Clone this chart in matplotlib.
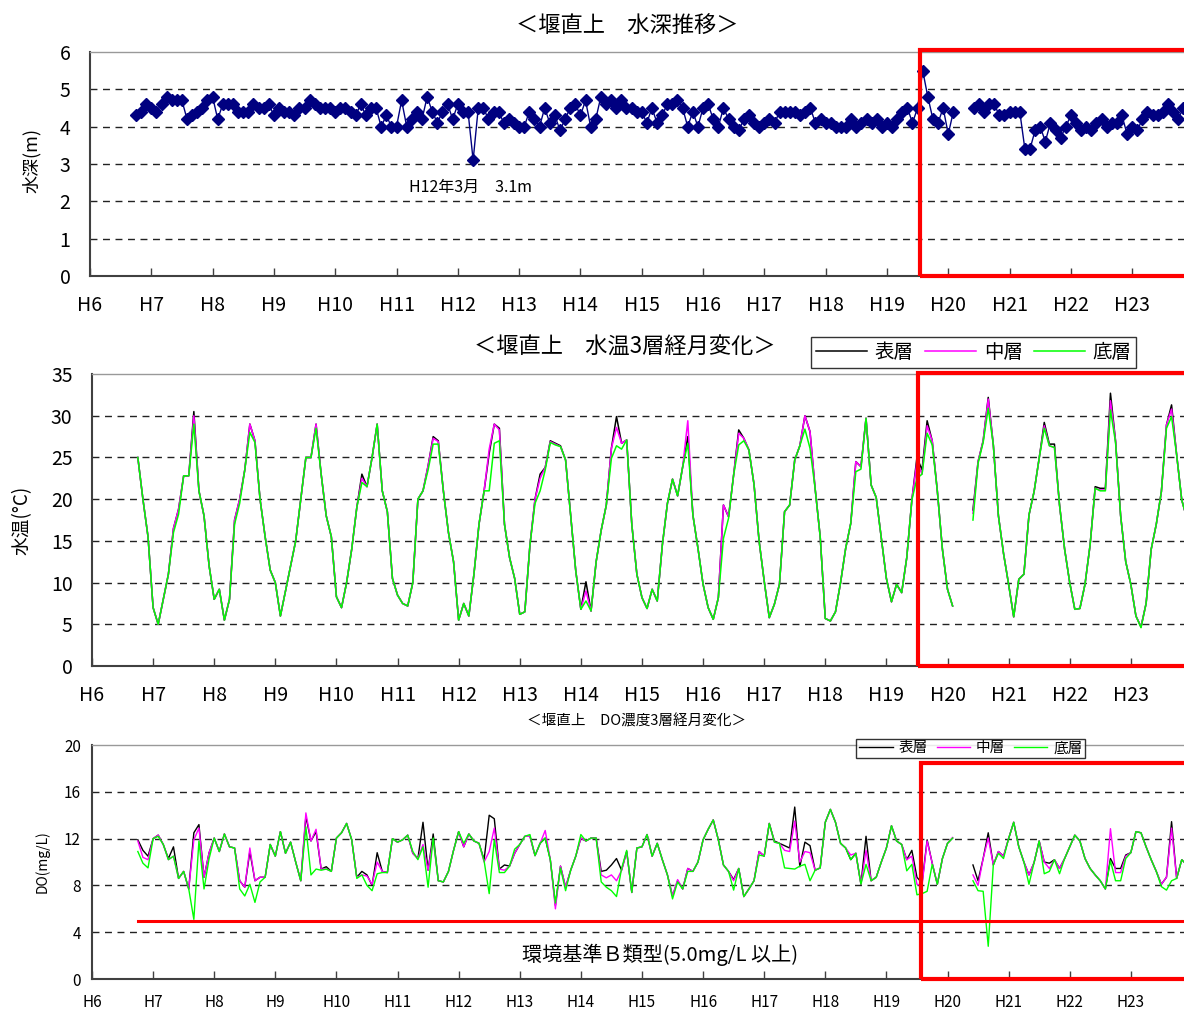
import numpy as np
import matplotlib
matplotlib.use("Agg")
import matplotlib.pyplot as plt
from matplotlib.patches import Rectangle

plt.rcParams['font.family'] = ['Noto Sans CJK JP', 'DejaVu Sans']

nan = np.nan

# 月データ: H6年9月から H23年(末) まで
year_labels = ['H%d' % y for y in range(6, 24)]
layer_names = ['表層', '中層', '底層']

# 水深 (m)
depth = [
    4.3, 4.4, 4.6, 4.5, 4.4, 4.6, 4.8, 4.7, 4.7, 4.7,
    4.2, 4.3, 4.4, 4.5, 4.7, 4.8, 4.2, 4.6, 4.6, 4.6,
    4.4, 4.4, 4.4, 4.6, 4.5, 4.5, 4.6, 4.3, 4.5, 4.4,
    4.4, 4.3, 4.5, 4.5, 4.7, 4.6, 4.5, 4.5, 4.5, 4.4,
    4.5, 4.5, 4.4, 4.3, 4.6, 4.3, 4.5, 4.5, 4.0, 4.3,
    4.0, 4.0, 4.7, 4.0, 4.2, 4.4, 4.2, 4.8, 4.4, 4.1,
    4.4, 4.6, 4.2, 4.6, 4.4, 4.4,
    3.1,
    4.5, 4.5, 4.2, 4.4, 4.4, 4.1, 4.2, 4.1, 4.0, 4.0,
    4.4, 4.2, 4.0, 4.5, 4.1, 4.3, 3.9, 4.2, 4.5, 4.6,
    4.3, 4.7,
    4.0, 4.2, 4.8, 4.6, 4.7, 4.5, 4.7, 4.5, 4.5, 4.4,
    4.4, 4.1, 4.5, 4.1, 4.3, 4.6, 4.6, 4.7, 4.5, 4.0,
    4.4, 4.0, 4.5, 4.6, 4.2, 4.0, 4.5, 4.2, 4.0, 3.9,
    4.2, 4.3, 4.1, 4.0, 4.1, 4.2, 4.1, 4.4, 4.4, 4.4,
    4.4, 4.3, 4.4, 4.5, 4.1, 4.2, 4.1, 4.1, 4.0, 4.0,
    4.0, 4.2, 4.0, 4.1, 4.2, 4.1, 4.2, 4.0, 4.1, 4.0,
    4.2, 4.4, 4.5, 4.1, 4.5,
    5.5,
    4.8, 4.2, 4.1, 4.5, 3.8, 4.4,
    nan, nan, nan,
    4.5, 4.6, 4.4, 4.6, 4.6, 4.3, 4.3, 4.4, 4.4, 4.4,
    3.4, 3.4, 3.9, 4.0, 3.6, 4.1, 3.9, 3.7, 4.0, 4.3,
    4.1, 3.9, 4.0, 3.9, 4.1, 4.2, 4.0, 4.1, 4.1, 4.3,
    3.8, 4.0, 3.9, 4.2, 4.4, 4.3, 4.3, 4.4, 4.6, 4.4,
    4.2, 4.5,
    nan,
]

# 水温 (℃)
temp_surf = [
    25.0, 20.0, 15.5, 7.0, 5.0, 8.0, 11.0, 16.5, 18.8, 22.8, 22.8, 30.5,
    21.0, 18.0, 12.0, 8.0, 9.2, 5.5, 8.0, 17.5, 20.0, 23.5, 29.0, 27.0,
    20.0, 15.5, 11.5, 10.0, 6.0, 9.0, 12.0, 15.0, 20.0, 25.0, 25.0, 29.0,
    23.0, 18.0, 15.5, 8.3, 7.0, 10.0, 14.0, 19.0, 23.0, 21.5, 25.0, 29.0,
    21.0, 18.5, 10.5, 8.5, 7.5, 7.2, 10.0, 20.0, 21.0, 24.0, 27.5, 27.0,
    21.0, 16.0, 12.5, 5.5, 7.5, 6.0, 11.0, 17.0, 21.0, 25.5, 29.0, 28.5,
    17.0, 13.0, 10.5, 6.2, 6.5, 14.5, 20.0, 23.0, 23.8, 27.0, 26.7, 26.4,
    24.7, 18.1, 11.4, 6.8, 10.1, 6.6, 12.5, 16.3, 19.3, 26.1, 29.9, 26.7,
    27.1, 17.0, 11.0, 8.2, 6.9, 9.2, 7.8, 14.5, 19.5, 22.4, 20.4, 23.9,
    27.5, 18.1, 14.1, 9.8, 7.0, 5.6, 8.2, 19.3, 17.9, 22.9, 28.3, 27.3,
    25.9, 21.8, 15.0, 10.2, 5.8, 7.4, 9.8, 18.5, 19.3, 24.7, 26.4, 30.0,
    28.1, 21.3, 15.5, 5.7, 5.4, 6.5, 10.0, 14.1, 17.1, 24.5, 23.9, 29.7,
    21.7, 20.2, 15.3, 10.5, 7.7, 9.8, 8.8, 13.0, 19.9, 25.0, 23.5, 29.4,
    27.0, 21.0, 14.0, 9.2, 7.2, nan, nan, nan, 18.7, 24.5, 27.0, 32.2,
    26.5, 18.0, 13.5, 9.8, 5.9, 10.4, 11.0, 18.1, 20.9, 24.9, 29.2, 26.6,
    26.6, 19.3, 14.0, 10.0, 6.8, 6.9, 9.8, 14.5, 21.5, 21.3, 21.3, 32.7,
    27.0, 18.0, 12.5, 9.8, 6.0, 4.7, 7.5, 14.0, 17.0, 20.9, 28.9, 31.3,
    25.3, 19.9, 17.7,
]
temp_mid = [
    25.0, 20.0, 15.5, 7.0, 5.0, 8.0, 11.0, 16.5, 18.8, 22.8, 22.8, 30.0,
    21.0, 18.0, 12.0, 8.0, 9.2, 5.5, 8.0, 17.5, 20.0, 23.5, 29.0, 27.0,
    20.0, 15.5, 11.5, 10.0, 6.0, 9.0, 12.0, 15.0, 20.0, 25.0, 25.0, 29.0,
    23.0, 18.0, 15.5, 8.3, 7.0, 10.0, 14.0, 19.0, 22.5, 21.5, 25.0, 29.0,
    21.0, 18.5, 10.5, 8.5, 7.5, 7.2, 10.0, 20.0, 21.0, 24.0, 27.3, 26.9,
    21.0, 16.0, 12.5, 5.5, 7.5, 6.0, 11.0, 17.0, 21.0, 26.0, 29.0, 28.3,
    17.0, 13.0, 10.5, 6.2, 6.5, 14.5, 20.0, 22.5, 23.8, 26.9, 26.6, 26.3,
    24.7, 18.1, 11.4, 6.8, 9.0, 6.6, 12.5, 16.3, 19.3, 26.1, 28.6, 26.7,
    27.1, 17.0, 11.0, 8.2, 6.9, 9.2, 7.8, 14.5, 19.5, 22.4, 20.4, 23.9,
    29.4, 18.1, 14.1, 9.8, 7.0, 5.6, 8.2, 19.3, 17.9, 22.9, 27.9, 27.3,
    25.9, 21.8, 15.0, 10.2, 5.8, 7.4, 9.8, 18.5, 19.3, 24.7, 26.4, 30.0,
    28.1, 21.3, 15.5, 5.7, 5.4, 6.5, 10.0, 14.1, 17.1, 24.5, 23.9, 29.7,
    21.7, 20.2, 15.3, 10.5, 7.7, 9.8, 8.8, 13.0, 19.9, 24.5, 23.0, 28.8,
    27.0, 21.0, 14.0, 9.2, 7.2, nan, nan, nan, 18.3, 24.5, 27.0, 32.0,
    26.5, 18.0, 13.5, 9.8, 5.9, 10.4, 11.0, 18.1, 20.9, 24.9, 28.8, 26.4,
    26.2, 19.3, 14.0, 10.0, 6.8, 6.9, 9.8, 14.5, 21.3, 21.1, 21.1, 31.8,
    27.0, 18.0, 12.5, 9.8, 6.0, 4.7, 7.5, 14.0, 17.0, 20.9, 28.9, 30.8,
    25.3, 19.9, 17.7,
]
temp_bot = [
    25.0, 20.0, 15.5, 7.0, 5.0, 8.0, 11.0, 16.0, 18.2, 22.8, 22.8, 29.0,
    21.0, 18.0, 12.0, 8.0, 9.2, 5.5, 8.0, 17.0, 19.5, 23.5, 28.0, 26.8,
    20.0, 15.5, 11.5, 10.0, 6.0, 9.0, 12.0, 15.0, 20.0, 25.0, 25.0, 28.5,
    23.0, 18.0, 15.5, 8.3, 7.0, 10.0, 14.0, 19.0, 22.0, 21.5, 25.0, 29.0,
    21.0, 18.5, 10.5, 8.5, 7.5, 7.2, 10.0, 20.0, 21.0, 23.5, 26.6, 26.6,
    21.0, 16.0, 12.5, 5.5, 7.5, 6.0, 11.0, 17.0, 21.0, 21.0, 26.7, 27.0,
    17.0, 13.0, 10.5, 6.2, 6.5, 14.5, 19.5, 21.0, 23.5, 26.8, 26.5, 26.3,
    24.7, 18.1, 11.4, 6.8, 7.8, 6.6, 12.5, 16.3, 19.3, 24.9, 26.4, 26.0,
    27.1, 17.0, 11.0, 8.2, 6.9, 9.2, 7.8, 14.5, 19.5, 22.4, 20.4, 23.9,
    26.7, 18.1, 14.1, 9.8, 7.0, 5.6, 8.2, 15.3, 17.7, 22.9, 26.5, 27.0,
    25.9, 21.8, 15.0, 10.2, 5.8, 7.4, 9.8, 18.5, 19.3, 24.7, 26.4, 28.4,
    26.1, 21.3, 15.5, 5.7, 5.4, 6.5, 10.0, 14.1, 17.1, 23.3, 23.6, 29.7,
    21.7, 20.2, 15.3, 10.5, 7.7, 9.8, 8.8, 13.0, 19.9, 22.5, 23.0, 27.9,
    26.5, 21.0, 14.0, 9.2, 7.2, nan, nan, nan, 17.5, 24.3, 26.8, 30.9,
    26.5, 18.0, 13.5, 9.8, 5.9, 10.4, 11.0, 18.1, 20.9, 24.9, 28.5, 26.4,
    26.2, 19.3, 14.0, 10.0, 6.8, 6.9, 9.8, 14.5, 21.3, 21.0, 21.0, 30.7,
    26.8, 18.0, 12.5, 9.8, 6.0, 4.6, 7.5, 14.0, 17.0, 20.9, 28.5, 29.9,
    25.3, 19.9, 17.7,
]

# DO (mg/L)
do_surf = [
    11.9, 11.0, 10.5, 12.0, 12.3, 11.5, 10.3, 11.3, 8.6, 9.2, 7.7, 12.5,
    13.2, 8.7, 10.8, 12.05, 10.9, 12.4, 11.3, 11.2, 8.4, 7.85, 10.9, 8.4,
    8.7, 8.7, 11.5, 10.5, 12.6, 10.75, 11.7, 10.0, 8.4, 13.9, 11.8, 12.6,
    9.4, 9.6, 9.2, 12.05, 12.5, 13.3, 11.9, 8.7, 9.2, 8.9, 8.0, 10.8,
    9.2, 9.1, 12.0, 11.7, 11.9, 12.3, 10.75, 10.3, 13.4, 9.3, 12.4, 8.4,
    8.3, 9.2, 11.0, 12.6, 11.3, 12.4, 11.8, 11.6, 10.2, 14.0, 13.7, 9.4,
    9.75, 9.65, 10.75, 11.5, 12.2, 12.2, 10.55, 11.6, 12.05, 10.2, 6.3, 9.65,
    7.85, 9.3, 10.5, 12.05, 11.8, 12.05, 12.05, 9.2, 9.3, 9.75, 10.3, 9.3,
    10.9, 7.4, 11.2, 11.3, 12.35, 10.5, 11.6, 10.2, 8.9, 7.1, 8.4, 7.7,
    9.45, 9.2, 10.0, 11.9, 12.8, 13.6, 11.9, 9.75, 9.2, 8.5, 9.45, 7.05,
    7.7, 8.4, 10.9, 10.5, 13.3, 11.8, 11.6, 11.4, 11.2, 14.7, 9.6, 11.7,
    11.4, 9.3, 9.5, 13.4, 14.5, 13.4, 11.6, 11.2, 10.2, 10.75, 8.1, 12.2,
    8.4, 8.7, 10.0, 11.2, 13.1, 11.8, 11.5, 10.2, 11.0, 8.7, 8.2, 11.9,
    9.9, 8.1, 10.3, 11.6, 12.05, nan, nan, nan, 9.75, 8.4, 10.3, 12.5,
    9.75, 10.9, 10.5, 12.0, 13.4, 11.3, 10.0, 8.9, 9.95, 11.8, 10.0, 9.9,
    10.2, 9.45, 10.3, 11.3, 12.3, 11.8, 10.3, 9.45, 8.9, 8.4, 7.7, 10.3,
    9.45, 9.45, 10.6, 10.8, 12.6, 12.5, 11.3, 10.2, 9.2, 8.1, 8.7, 13.45,
    8.6, 10.2, 9.75,
]
do_mid = [
    11.8, 10.4, 10.2, 12.0, 12.3, 11.5, 10.2, 10.5, 8.6, 9.2, 7.7, 11.9,
    12.9, 8.7, 10.8, 12.05, 10.9, 12.4, 11.3, 11.2, 8.4, 7.85, 11.2, 8.4,
    8.7, 8.7, 11.5, 10.5, 12.6, 10.75, 11.7, 10.0, 8.4, 14.2, 11.8, 12.8,
    9.4, 9.4, 9.2, 12.05, 12.5, 13.3, 11.9, 8.7, 8.9, 8.8, 8.1, 10.0,
    9.2, 9.1, 12.0, 11.7, 11.9, 12.3, 10.75, 10.3, 11.5, 9.3, 11.9, 8.4,
    8.3, 9.2, 11.0, 12.6, 11.3, 12.4, 11.8, 11.6, 10.0, 10.9, 12.9, 9.4,
    9.3, 9.65, 10.75, 11.5, 12.2, 12.2, 10.55, 11.6, 12.7, 10.2, 6.0, 9.65,
    7.85, 9.3, 10.5, 12.05, 11.8, 12.05, 12.05, 8.9, 8.65, 8.9, 8.4, 9.3,
    10.9, 7.4, 11.2, 11.3, 12.35, 10.5, 11.6, 10.2, 8.9, 7.1, 8.5, 7.7,
    9.45, 9.2, 10.0, 11.9, 12.8, 13.6, 11.9, 9.75, 9.2, 8.4, 9.45, 7.05,
    7.7, 8.4, 10.9, 10.5, 13.3, 11.7, 11.6, 11.0, 10.9, 13.5, 10.0, 10.9,
    10.8, 9.3, 9.5, 13.4, 14.5, 13.4, 11.6, 11.2, 10.6, 10.75, 8.1, 11.0,
    8.4, 8.7, 10.0, 11.2, 13.1, 11.8, 11.5, 10.2, 10.5, 8.1, 8.0, 11.8,
    9.9, 8.1, 10.3, 11.6, 12.1, nan, nan, nan, 8.9, 8.0, 10.3, 12.05,
    9.75, 10.9, 10.5, 12.0, 13.4, 11.3, 10.0, 8.9, 9.95, 11.8, 10.0, 9.45,
    10.2, 9.45, 10.3, 11.3, 12.3, 11.8, 10.3, 9.45, 8.9, 8.4, 7.7, 12.85,
    9.1, 9.1, 10.5, 10.8, 12.6, 12.5, 11.3, 10.2, 9.2, 8.1, 8.7, 12.9,
    8.6, 10.2, 9.75,
]
do_bot = [
    10.9, 9.9, 9.5, 12.0, 12.2, 11.5, 10.2, 10.5, 8.6, 9.2, 7.7, 5.1,
    11.8, 7.7, 10.3, 12.05, 10.9, 12.4, 11.3, 11.2, 7.7, 7.1, 8.1, 6.55,
    8.3, 8.7, 11.5, 10.5, 12.6, 10.75, 11.7, 10.0, 8.4, 13.0, 8.9, 9.4,
    9.3, 9.4, 9.2, 12.05, 12.5, 13.3, 11.9, 8.6, 8.9, 8.0, 7.55, 9.0,
    9.1, 9.1, 12.0, 11.7, 11.9, 12.3, 10.9, 10.2, 11.3, 7.85, 12.05, 8.4,
    8.3, 9.2, 11.0, 12.6, 11.6, 12.4, 11.8, 11.6, 10.1, 7.3, 11.9, 9.1,
    9.1, 9.65, 11.1, 11.5, 12.2, 12.35, 10.55, 11.6, 12.05, 10.2, 6.5, 9.5,
    7.55, 9.3, 10.5, 12.35, 11.8, 12.05, 12.05, 8.3, 7.85, 7.55, 7.05, 9.45,
    11.0, 7.4, 11.2, 11.3, 12.35, 10.5, 11.6, 10.2, 8.9, 6.85, 8.3, 7.7,
    9.2, 9.2, 10.0, 11.9, 12.8, 13.6, 11.9, 9.75, 9.2, 7.6, 9.45, 7.05,
    7.7, 8.4, 10.6, 10.5, 13.3, 11.7, 11.6, 9.5, 9.45, 9.4, 9.65, 9.8,
    8.4, 9.3, 9.5, 13.4, 14.5, 13.4, 11.6, 11.2, 10.2, 10.75, 8.1, 9.8,
    8.4, 8.7, 10.0, 11.2, 13.1, 11.8, 11.5, 9.25, 9.8, 7.2, 7.3, 7.5,
    9.8, 8.1, 10.3, 11.6, 12.05, nan, nan, nan, 8.4, 7.55, 7.5, 2.8,
    9.75, 10.75, 10.3, 12.0, 13.4, 11.3, 10.0, 8.1, 9.95, 11.8, 9.0, 9.2,
    10.2, 9.0, 10.3, 11.3, 12.3, 11.8, 10.3, 9.45, 8.9, 8.4, 7.7, 10.1,
    8.4, 8.4, 10.3, 10.8, 12.6, 12.5, 11.3, 10.2, 9.2, 7.9, 7.6, 8.4,
    8.6, 10.2, 9.75,
]

do_standard = 5.0

# x 位置: H6年9月 = 6.75, 以降1か月ずつ
x = 6.75 + np.arange(len(depth)) / 12.0

layer_colors = ['black', '#ff00ff', '#00ff00']
spine_col = '#404040'
dash = (0, (5, 4))


def style_axes(ax, yticks, xlab_size, ylab_size, xpad, ypad):
    ax.set_xlim(6, 24)
    ax.set_ylim(yticks[0], yticks[-1])
    ax.set_yticks(yticks)
    ax.set_xticks(range(6, 24))
    ax.set_xticklabels(year_labels, fontsize=xlab_size)
    ax.tick_params(axis='x', direction='in', length=6, width=1, pad=xpad, colors=spine_col, labelcolor='black')
    ax.tick_params(axis='y', length=0, pad=ypad, labelsize=ylab_size)
    for v in yticks[1:-1]:
        ax.axhline(v, color='#222222', lw=1, ls=dash, zorder=1)
    ax.spines['right'].set_visible(False)
    ax.spines['top'].set_color('#999999')
    ax.spines['top'].set_linewidth(1)
    ax.spines['left'].set_color(spine_col)
    ax.spines['bottom'].set_color(spine_col)
    ax.spines['left'].set_linewidth(1.5)
    ax.spines['bottom'].set_linewidth(1.5)


fig = plt.figure(figsize=(11.84, 10.09), dpi=100)

# --- 水深 ---
ax1 = fig.add_axes([0.0760, 0.7265, 0.932, 0.222])
style_axes(ax1, list(range(0, 7)), 14, 14, 14, 14)
ax1.plot(x, depth, color='#000080', lw=1, marker='D', ms=6, zorder=3)
ax1.text(12.2, 2.36, 'H12年3月　3.1m', fontsize=11.5, ha='center', va='center')
ax1.add_patch(Rectangle((19.54, 0), 6, 6.04, fill=False, ec='red', lw=3, clip_on=False, zorder=6))
fig.text(0.530, 0.9752, '＜堰直上　水深推移＞', fontsize=16, ha='center', va='center')
fig.text(0.027, 0.841, '水深(m)', fontsize=13, rotation=90, ha='center', va='center')

# --- 水温 ---
ax2 = fig.add_axes([0.0777, 0.3399, 0.929, 0.2894])
style_axes(ax2, list(range(0, 36, 5)), 14, 14, 14, 14)
temps = [temp_surf, temp_mid, temp_bot]
for vals, col, name in zip(temps, layer_colors, layer_names):
    ax2.plot(x, vals, color=col, lw=1.1, label=name, zorder=3)
ax2.add_patch(Rectangle((19.52, 0), 6, 35.1, fill=False, ec='red', lw=3, clip_on=False, zorder=6))
fig.text(0.528, 0.656, '＜堰直上　水温3層経月変化＞', fontsize=16, ha='center', va='center')
fig.text(0.019, 0.4846, '水温(°C)', fontsize=13.5, rotation=90, ha='center', va='center')
leg2 = fig.legend(*ax2.get_legend_handles_labels(), loc='center', bbox_to_anchor=(0.8226, 0.6506),
                  ncol=3, fontsize=14, frameon=True, fancybox=False, handlelength=2.6,
                  handletextpad=0.4, columnspacing=0.6, borderpad=0.25, borderaxespad=0)
leg2.get_frame().set_edgecolor('black')
leg2.get_frame().set_linewidth(1)

# --- DO ---
ax3 = fig.add_axes([0.0777, 0.0297, 0.929, 0.2319])
style_axes(ax3, list(range(0, 21, 4)), 11, 11, 11, 8)
dos = [do_surf, do_mid, do_bot]
for vals, col, name in zip(dos, layer_colors, layer_names):
    ax3.plot(x, vals, color=col, lw=1.0, label=name, zorder=3)
ax3.plot([x[0], 25], [do_standard, do_standard], color='red', lw=2.2, zorder=4)
ax3.text(15.3, 2.05, '環境基準Ｂ類型(5.0mg/L 以上)', fontsize=14.5, ha='center', va='center')
ax3.add_patch(Rectangle((19.57, 0), 6, 18.45, fill=False, ec='red', lw=3, clip_on=False, zorder=6))
fig.text(0.538, 0.2854, '＜堰直上　DO濃度3層経月変化＞', fontsize=10.5, ha='center', va='center')
fig.text(0.0355, 0.1457, 'DO(mg/L)', fontsize=10, rotation=90, ha='center', va='center')
leg3 = fig.legend(*ax3.get_legend_handles_labels(), loc='center', bbox_to_anchor=(0.820, 0.2582),
                  ncol=3, fontsize=10.5, frameon=True, fancybox=False, handlelength=2.3,
                  handletextpad=0.4, columnspacing=0.6, borderpad=0.2, borderaxespad=0)
leg3.get_frame().set_edgecolor('black')
leg3.get_frame().set_linewidth(1)

fig.savefig('out.png', dpi=100)
